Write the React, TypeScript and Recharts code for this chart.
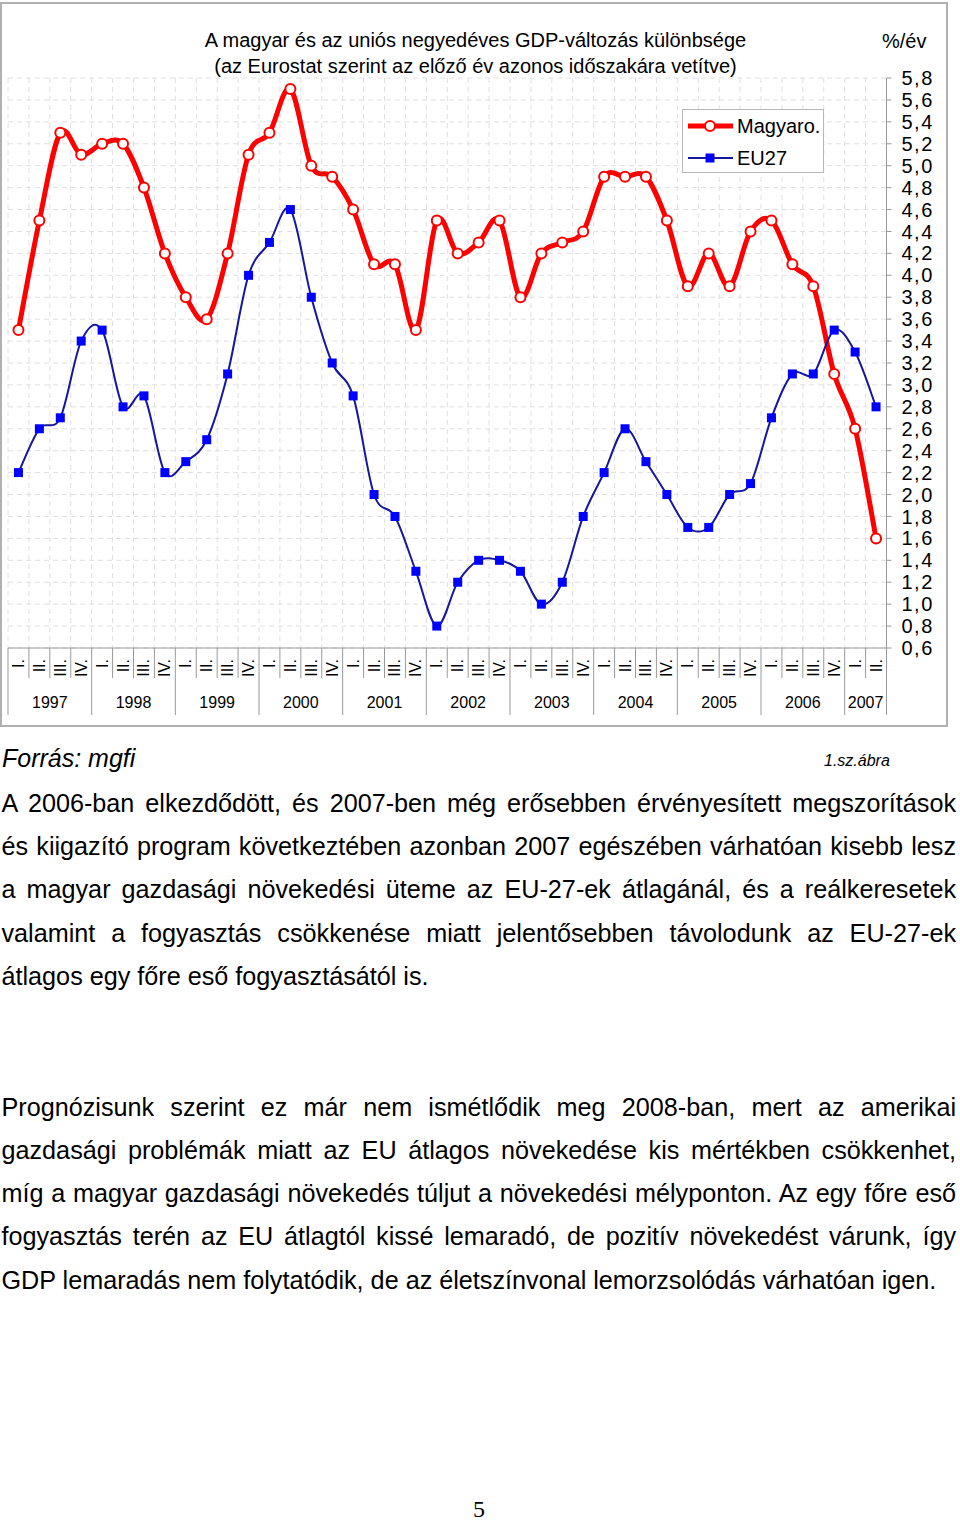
import React from 'react';
import { LineChart, Line, XAxis, YAxis, CartesianGrid, Legend } from 'recharts';

// ---------- data ----------
const CATEGORIES = [
  '1997 I.', '1997 II.', '1997 III.', '1997 IV.',
  '1998 I.', '1998 II.', '1998 III.', '1998 IV.',
  '1999 I.', '1999 II.', '1999 III.', '1999 IV.',
  '2000 I.', '2000 II.', '2000 III.', '2000 IV.',
  '2001 I.', '2001 II.', '2001 III.', '2001 IV.',
  '2002 I.', '2002 II.', '2002 III.', '2002 IV.',
  '2003 I.', '2003 II.', '2003 III.', '2003 IV.',
  '2004 I.', '2004 II.', '2004 III.', '2004 IV.',
  '2005 I.', '2005 II.', '2005 III.', '2005 IV.',
  '2006 I.', '2006 II.', '2006 III.', '2006 IV.',
  '2007 I.', '2007 II.',
];
const QUARTER_LABELS = ['I.', 'II.', 'III.', 'IV.'];

const MAGYARO = [
  3.5, 4.5, 5.3, 5.1, 5.2, 5.2, 4.8, 4.2, 3.8, 3.6, 4.2, 5.1,
  5.3, 5.7, 5.0, 4.9, 4.6, 4.1, 4.1, 3.5, 4.5, 4.2, 4.3, 4.5,
  3.8, 4.2, 4.3, 4.4, 4.9, 4.9, 4.9, 4.5, 3.9, 4.2, 3.9, 4.4,
  4.5, 4.1, 3.9, 3.1, 2.6, 1.6,
];
const EU27 = [
  2.2, 2.6, 2.7, 3.4, 3.5, 2.8, 2.9, 2.2, 2.3, 2.5, 3.1, 4.0,
  4.3, 4.6, 3.8, 3.2, 2.9, 2.0, 1.8, 1.3, 0.8, 1.2, 1.4, 1.4,
  1.3, 1.0, 1.2, 1.8, 2.2, 2.6, 2.3, 2.0, 1.7, 1.7, 2.0, 2.1,
  2.7, 3.1, 3.1, 3.5, 3.3, 2.8,
];
const Y_TICKS = [
  0.6, 0.8, 1.0, 1.2, 1.4, 1.6, 1.8, 2.0, 2.2, 2.4, 2.6, 2.8, 3.0, 3.2,
  3.4, 3.6, 3.8, 4.0, 4.2, 4.4, 4.6, 4.8, 5.0, 5.2, 5.4, 5.6, 5.8,
];
const SERIES_KEYS = ['magyaro', 'eu27'];
const SERIES_NAMES = ['Magyaro.', 'EU27'];

const TITLE_LINES = [
  'A magyar és az uniós negyedéves GDP-változás különbsége',
  '(az Eurostat szerint az előző év azonos időszakára vetítve)',
];
const UNIT_LABEL = '%/év';
const SOURCE_LABEL = 'Forrás: mgfi';
const FIGURE_LABEL = '1.sz.ábra';
const PARAGRAPH_1 = [
  'A 2006-ban elkezdődött, és 2007-ben még erősebben érvényesített megszorítások',
  'és kiigazító program következtében azonban 2007 egészében várhatóan kisebb lesz',
  'a magyar gazdasági növekedési üteme az EU-27-ek átlagánál, és a reálkeresetek',
  'valamint a fogyasztás csökkenése miatt jelentősebben távolodunk az EU-27-ek',
  'átlagos egy főre eső fogyasztásától is.',
];
const PARAGRAPH_2 = [
  'Prognózisunk szerint ez már nem ismétlődik meg 2008-ban, mert az amerikai',
  'gazdasági problémák miatt az EU átlagos növekedése kis mértékben csökkenhet,',
  'míg a magyar gazdasági növekedés túljut a növekedési mélyponton. Az egy főre eső',
  'fogyasztás terén az EU átlagtól kissé lemaradó, de pozitív növekedést várunk, így',
  'GDP lemaradás nem folytatódik, de az életszínvonal lemorzsolódás várhatóan igen.',
];
const PAGE_NUMBER = '5';

const data = CATEGORIES.map((cat, i) => ({ cat, magyaro: MAGYARO[i], eu27: EU27[i] }));

// ---------- layout ----------
const FONT = '"Liberation Sans", Arial, Helvetica, sans-serif';
const CHART_W = 946;
const CHART_H = 725;
const MARGIN = { top: 76, right: 0, bottom: 0, left: 6 };
const YAXIS_W = 61.5;
const XAXIS_H = 79;
const PLOT_W = CHART_W - MARGIN.left - MARGIN.right - YAXIS_W;
const BAND = PLOT_W / CATEGORIES.length;
const RED = '#ff0000';
const NAVY = '#16169e';
const BLUE = '#0000ff';
const AXIS_GRAY = '#9a9a9a';

// Excel-like smoothed line (Catmull-Rom as cubic Bezier)
const excelSmooth = (context: any) => {
  let pts: number[][] = [];
  return {
    areaStart() {},
    areaEnd() {},
    lineStart() {
      pts = [];
    },
    lineEnd() {
      const n = pts.length;
      if (!n) return;
      context.moveTo(pts[0][0], pts[0][1]);
      const t = 1 / 6;
      for (let i = 0; i < n - 1; i++) {
        const p0 = pts[Math.max(i - 1, 0)];
        const p1 = pts[i];
        const p2 = pts[i + 1];
        const p3 = pts[Math.min(i + 2, n - 1)];
        context.bezierCurveTo(
          p1[0] + (p2[0] - p0[0]) * t,
          p1[1] + (p2[1] - p0[1]) * t,
          p2[0] - (p3[0] - p1[0]) * t,
          p2[1] - (p3[1] - p1[1]) * t,
          p2[0],
          p2[1]
        );
      }
    },
    point(x: number, y: number) {
      pts.push([+x, +y]);
    },
  };
};

const fmt = (v: number) => v.toFixed(1).replace('.', ',');

const QuarterTick = (props: any) => {
  const { x, y, payload } = props;
  const cat: string = payload.value;
  const idx = CATEGORIES.indexOf(cat);
  const [year, q] = cat.split(' ');
  const qi = QUARTER_LABELS.indexOf(q);
  const half = BAND / 2;
  const yearCount = CATEGORIES.filter((c) => c.startsWith(year)).length;
  const showYear = qi === yearCount / 2 - 1;
  const isLast = idx === CATEGORIES.length - 1;
  return (
    <g>
      <line x1={x - half} x2={x - half} y1={y} y2={y + (qi === 0 ? 67 : 30)} stroke={AXIS_GRAY} strokeWidth={1} />
      {isLast && <line x1={x + half} x2={x + half} y1={y} y2={y + 67} stroke={AXIS_GRAY} strokeWidth={1} />}
      <text
        transform={`translate(${x},${y + 11}) rotate(-90)`}
        textAnchor="end"
        dominantBaseline="central"
        fontSize={16}
        fill="#000"
      >
        {q}
      </text>
      {showYear && (
        <text x={x + half} y={y + 60} textAnchor="middle" fontSize={16} fill="#000">
          {year}
        </text>
      )}
    </g>
  );
};

const SquareDot = (props: any) => {
  const { cx, cy, index } = props;
  if (cx == null || cy == null) return <g key={`sq-${index}`} />;
  return <rect key={`sq-${index}`} x={cx - 4.5} y={cy - 4.5} width={9} height={9} fill={BLUE} />;
};

const LegendBox = (props: any) => {
  const items: any[] = [...(props.payload || [])].sort(
    (a, b) => SERIES_KEYS.indexOf(String(a.dataKey)) - SERIES_KEYS.indexOf(String(b.dataKey))
  );
  return (
    <div
      style={{
        width: 142,
        height: 64,
        boxSizing: 'border-box',
        border: '1px solid #b8b8b8',
        background: '#fff',
        position: 'relative',
        fontFamily: FONT,
      }}
    >
      {items.map((it, i) => {
        const isRed = it.dataKey === 'magyaro';
        return (
          <div
            key={String(it.dataKey)}
            style={{ position: 'absolute', left: 0, top: i === 0 ? 4 : 36, height: 24, display: 'flex', alignItems: 'center' }}
          >
            <svg width={54} height={24} style={{ display: 'block' }}>
              <line x1={5} x2={50} y1={12} y2={12} stroke={isRed ? RED : NAVY} strokeWidth={isRed ? 5 : 2} />
              {isRed ? (
                <circle cx={27} cy={12} r={5} fill="#fff" stroke={RED} strokeWidth={2} />
              ) : (
                <rect x={22.5} y={7.5} width={9} height={9} fill={BLUE} />
              )}
            </svg>
            <span style={{ fontSize: 20, lineHeight: '24px', color: '#000', whiteSpace: 'nowrap' }}>{it.value}</span>
          </div>
        );
      })}
    </div>
  );
};

const lineStyle = (justify: boolean): React.CSSProperties => ({
  height: 43.3,
  lineHeight: '43.3px',
  whiteSpace: 'nowrap',
  textAlign: justify ? 'justify' : 'left',
  textAlignLast: justify ? 'justify' : 'left',
} as React.CSSProperties);

const Paragraph = ({ lines, top }: { lines: string[]; top: number }) => (
  <div style={{ position: 'absolute', left: 1.5, top, width: 954.5, fontSize: 25.2 }}>
    {lines.map((l, i) => (
      <div key={i} style={lineStyle(i < lines.length - 1)}>
        {l}
      </div>
    ))}
  </div>
);

export default function App() {
  return (
    <div
      style={{
        position: 'absolute',
        left: 0,
        top: 0,
        width: 960,
        height: 1520,
        background: '#fff',
        fontFamily: FONT,
        color: '#000',
      }}
    >
      {/* chart frame */}
      <div
        style={{
          position: 'absolute',
          left: 0,
          top: 2,
          width: 948,
          height: 725,
          boxSizing: 'border-box',
          border: '2px solid #b0b0b0',
        }}
      />
      <div style={{ position: 'absolute', left: 2, top: 2, width: CHART_W, height: CHART_H }}>
        <LineChart width={CHART_W} height={CHART_H} data={data} margin={MARGIN}>
          <CartesianGrid
            stroke="#e0e0e0"
            strokeDasharray="5 4"
            verticalCoordinatesGenerator={({ offset }: any) =>
              CATEGORIES.map((_, i) => offset.left + (i * offset.width) / CATEGORIES.length)
            }
          />
          <XAxis
            dataKey="cat"
            scale="band"
            interval={0}
            height={XAXIS_H}
            tickSize={0}
            tickMargin={0}
            tickLine={false}
            axisLine={{ stroke: AXIS_GRAY }}
            tick={<QuarterTick />}
          />
          <YAxis
            orientation="right"
            width={YAXIS_W}
            domain={[0.6, 5.8]}
            ticks={Y_TICKS}
            interval={0}
            allowDataOverflow
            tickFormatter={fmt}
            tickSize={5}
            tickMargin={10}
            axisLine={{ stroke: AXIS_GRAY }}
            tickLine={{ stroke: AXIS_GRAY }}
            tick={{ fontSize: 20, fill: '#000', letterSpacing: 1.5 }}
          />
          <Legend
            layout="horizontal"
            verticalAlign="middle"
            align="center"
            content={<LegendBox />}
            wrapperStyle={{ left: 680, top: 107, width: 142, height: 64 }}
          />
          <Line
            dataKey="magyaro"
            name={SERIES_NAMES[0]}
            type={excelSmooth as any}
            stroke={RED}
            strokeWidth={5}
            dot={{ r: 5, fill: '#fff', stroke: RED, strokeWidth: 2 }}
            activeDot={false}
            isAnimationActive={false}
          />
          <Line
            dataKey="eu27"
            name={SERIES_NAMES[1]}
            type={excelSmooth as any}
            stroke={NAVY}
            strokeWidth={2}
            dot={SquareDot}
            activeDot={false}
            isAnimationActive={false}
          />
        </LineChart>
      </div>

      {/* titles */}
      <div style={{ position: 'absolute', left: 0, top: 27, width: 951, textAlign: 'center', fontSize: 20, lineHeight: '26px' }}>
        {TITLE_LINES.map((t) => (
          <div key={t}>{t}</div>
        ))}
      </div>
      <div style={{ position: 'absolute', left: 882, top: 28, fontSize: 20, lineHeight: '26px', whiteSpace: 'nowrap' }}>
        {UNIT_LABEL}
      </div>

      {/* captions */}
      <div style={{ position: 'absolute', left: 2, top: 743.3, fontSize: 25, lineHeight: '30px', fontStyle: 'italic', whiteSpace: 'nowrap' }}>
        {SOURCE_LABEL}
      </div>
      <div style={{ position: 'absolute', left: 824, top: 750.5, fontSize: 16, lineHeight: '20px', fontStyle: 'italic', whiteSpace: 'nowrap' }}>
        {FIGURE_LABEL}
      </div>

      <Paragraph lines={PARAGRAPH_1} top={781.9} />
      <Paragraph lines={PARAGRAPH_2} top={1085.6} />

      <div
        style={{
          position: 'absolute',
          left: 0,
          width: 958,
          top: 1500,
          textAlign: 'center',
          fontFamily: '"Liberation Serif", "Times New Roman", serif',
          fontSize: 24,
          lineHeight: '18px',
        }}
      >
        {PAGE_NUMBER}
      </div>
    </div>
  );
}
